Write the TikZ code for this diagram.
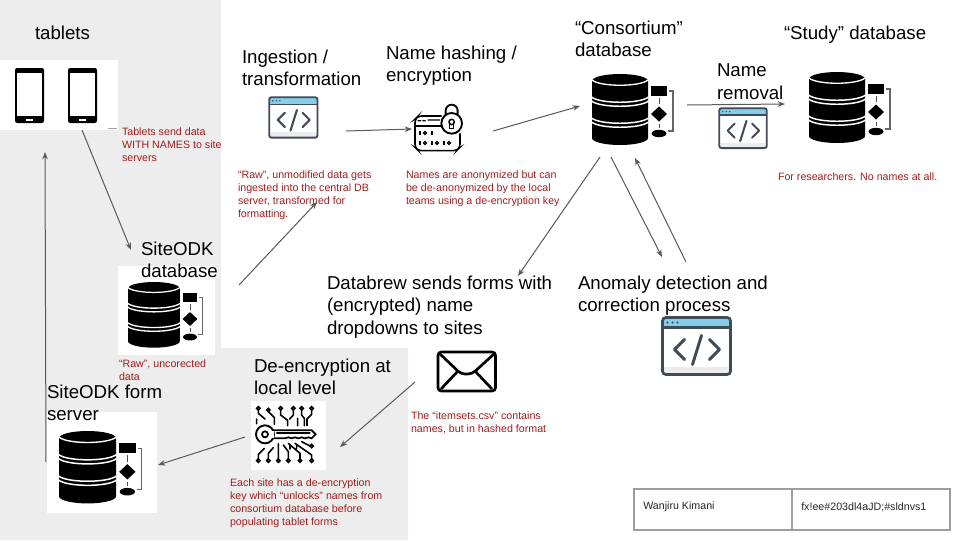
\documentclass[tikz,border=0pt]{standalone}
\usepackage{fontspec}
\setmainfont{Liberation Sans}
\usetikzlibrary{arrows.meta}
\definecolor{panelgray}{HTML}{EDEDED}
\definecolor{notered}{HTML}{A61C1C}
\definecolor{flowgray}{HTML}{595959}
\definecolor{codeslate}{HTML}{3F4B57}
\definecolor{codeblue}{HTML}{85CDE8}
\definecolor{tablegray}{HTML}{9E9E9E}
\tikzset{
  iconbox/.style={fill=white,draw=none,inner sep=0pt,outer sep=0pt,anchor=north west},
  heading/.style={anchor=north west,inner sep=0pt,outer sep=0pt,align=left,text=black,
    font=\fontsize{14}{16.7}\selectfont,execute at begin node={\rule{0pt}{11pt}}},
  note/.style={anchor=north west,inner sep=0pt,outer sep=0pt,align=left,text=notered,
    font=\fontsize{8}{9.8}\selectfont,execute at begin node={\rule{0pt}{7pt}}},
  flow/.style={draw=flowgray,line width=0.75pt,-{Stealth[length=5.5pt,width=4.2pt]}},
  cellbox/.style={draw=tablegray,line width=0.8pt,inner sep=0pt,outer sep=0pt,anchor=north west,
    minimum height=30.75pt,text=black!85,
    font=\fontsize{8}{9.8}\selectfont},
}
\newcommand{\dbicon}[3]{%
  \begin{scope}[shift={(#1,#2)},xscale=#3,yscale=#3]
    \fill[black] (0,7) arc[start angle=180,end angle=360,x radius=28,y radius=7]
       -- (56,64) arc[start angle=0,end angle=180,x radius=28,y radius=7] -- cycle;
    \draw[white,line width=#3*1pt] (0,6) .. controls (8,13) and (48,13) .. (56,6);
    \draw[white,line width=#3*1.1pt] (-0.5,23) .. controls (8,30) and (48,30) .. (56.5,23);
    \draw[white,line width=#3*1.1pt] (-0.5,27) .. controls (8,34) and (48,34) .. (56.5,27);
    \draw[white,line width=#3*1.1pt] (-0.5,44) .. controls (8,51) and (48,51) .. (56.5,44);
    \draw[white,line width=#3*1.1pt] (-0.5,48) .. controls (8,55) and (48,55) .. (56.5,48);
    \fill[black] (59,12) rectangle (75,22);
    \fill[black] (67,32.5) -- (75,40) -- (67,47.5) -- (59,40) -- cycle;
    \fill[black] (67,59.5) ellipse[x radius=7.5,y radius=3.7];
    \draw[black!70,line width=#3*0.7pt] (67,24) -- (67,30) (67,50) -- (67,54);
    \draw[black!60,line width=#3*0.9pt] (77,17) -- (81,17) -- (81,57) -- (76,57);
  \end{scope}}
\newcommand{\codeicon}[3]{%
  \begin{scope}[shift={(#1,#2)},xscale=#3,yscale=#3]
    \fill[white,rounded corners=#3*2.5pt] (1,1) rectangle (69,58);
    \fill[panelgray] (2,50) rectangle (68,57);
    \fill[codeblue] (2,2) rectangle (68,10);
    \draw[codeslate,line width=#3*1.7pt] (1,11) -- (69,11);
    \draw[codeslate,line width=#3*2pt,rounded corners=#3*2.5pt] (1,1) rectangle (69,58);
    \fill[codeslate] (6,6) circle[radius=1.1] (11,6) circle[radius=1.1] (16,6) circle[radius=1.1];
    \draw[codeslate,line width=#3*2.2pt,line cap=round,line join=round]
      (23,23) -- (13,33) -- (23,43) (48,23) -- (58,33) -- (48,43) (40,19) -- (31,48);
  \end{scope}}
\begin{document}
\begin{tikzpicture}[x=0.75pt,y=-0.75pt]
\path[use as bounding box,fill=white] (0,0) rectangle (960,540);
% grey panel
\fill[panelgray] (0,0) -- (221,0) -- (221,348) -- (408,348) -- (408,540) -- (0,540) -- cycle;

% icon holders
\node[iconbox,minimum width=88.5pt,minimum height=52.5pt] (tablets) at (0,60) {};
\node[iconbox,minimum width=72.75pt,minimum height=66.75pt] (sitedb) at (118,266) {};
\node[iconbox,minimum width=82.5pt,minimum height=75.75pt] (formdb) at (47,412) {};
\node[iconbox,minimum width=36.75pt,minimum height=29.25pt] (ingest) at (269,97) {};
\node[iconbox,minimum width=39pt,minimum height=34.5pt] (hash) at (413,106) {};
\node[iconbox,minimum width=60pt,minimum height=53.25pt] (consort) at (592,74) {};
\node[iconbox,minimum width=60.75pt,minimum height=52.5pt] (study) at (809,72) {};
\node[iconbox,minimum width=36pt,minimum height=30pt] (removal) at (719,108) {};
\node[iconbox,minimum width=52.5pt,minimum height=44.25pt] (anomaly) at (662,317) {};
\node[iconbox,minimum width=44.25pt,minimum height=30.75pt] (mail) at (437,350) {};
\node[iconbox,minimum width=56.25pt,minimum height=51.75pt] (key) at (251,401) {};

% phones
\foreach \px in {15,68}{
  \fill[black,rounded corners=1.6pt] (\px,68) rectangle ++(29,55);
  \fill[white] (\px+2,73) rectangle ++(25,43);
  \fill[white] (\px+11,118.8) rectangle ++(7,2);
}
\fill[black!35] (108,127.5) rectangle (117,129);

% databases
\dbicon{128}{282}{0.925}
\dbicon{59}{431}{1.02}
\dbicon{592}{74}{1}
\dbicon{809}{72}{1}

% code windows
\codeicon{268.5}{96.5}{0.71}
\codeicon{718.5}{107.5}{0.7}
\codeicon{661.5}{316.5}{1}

% hash icon
\begin{scope}[shift={(405,100)},x=0.25pt,y=-0.25pt]
  \draw[black,line width=1.2pt,rounded corners=2.5pt] (110,48) -- (40,48) -- (30,58) -- (30,142) -- (40,152) -- (155,152) -- (165,142) -- (165,100);
  \draw[black,line width=1.1pt] (30,78) -- (108,78);
  \fill[black] (38,60) rectangle (48,64) (52,60) rectangle (62,64) (68,58) rectangle (105,62);
  \foreach \bx in {42,78}{\fill[black] (\bx,92) rectangle ++(5,14);}
  \draw[black,line width=1pt] (60,99) circle[radius=4.5];
  \foreach \bx in {42,78,114}{\fill[black] (\bx,122) rectangle ++(5,14);}
  \foreach \bx in {60,96,132}{\draw[black,line width=1pt] (\bx,129) circle[radius=4.5];}
  \fill[white] (140,70) circle[radius=31];
  \draw[black,line width=1.4pt] (140,70) circle[radius=31];
  \draw[black,line width=1.4pt] (122,44) -- (122,32) arc[start angle=180,end angle=360,x radius=18,y radius=18] -- (158,44);
  \draw[black,line width=1.1pt] (140,66) circle[radius=8];
  \draw[black,line width=1.1pt] (134,72) -- (134,86) -- (146,86) -- (146,72);
\end{scope}

% key icon
\begin{scope}[shift={(245,395)},x=0.25pt,y=-0.25pt,line cap=round]
  \draw[black,line width=1.3pt] (83,106) -- (200,106) -- (212,118) -- (200,130)
    -- (190,127) -- (180,130) -- (170,127) -- (160,130) -- (150,127) -- (140,130) -- (130,127) -- (120,130) -- (83,130);
  \draw[black,line width=1.4pt] (60,118) circle[radius=27];
  \fill[white] (80,108) rectangle (88,128);
  \draw[black,line width=1.3pt] (60,118) circle[radius=9];
  \draw[black,line width=0.9pt] (95,114) -- (195,114);
  \foreach \cx/\cy in {40/40,70/45,107/40,145/40,170/40,200/40,40/197,70/197,100/197,130/197,165/197,200/197,200/153}{
    \draw[black,line width=1.2pt] (\cx,\cy) circle[radius=5];}
  \draw[black,line width=1.2pt]
    (40,45) -- (40,55) -- (60,72)
    (70,50) -- (88,68) -- (88,88)
    (107,45) -- (107,60) -- (128,76) -- (128,92)
    (145,45) -- (145,60) -- (134,72)
    (158,70) -- (158,92)
    (170,45) -- (170,60) -- (178,70) -- (178,92)
    (200,45) -- (200,58) -- (186,72) -- (186,92)
    (35,72) -- (35,86)
    (40,192) -- (40,178) -- (58,160)
    (70,192) -- (70,175) -- (85,158)
    (100,192) -- (100,146)
    (130,192) -- (130,170) -- (115,150)
    (165,192) -- (165,175) -- (130,145)
    (200,192) -- (200,180) -- (150,145)
    (195,153) -- (170,140)
    (135,150) -- (135,162)
    (155,148) -- (155,160);
\end{scope}

% envelope
\draw[black,line width=2pt,rounded corners=2.5pt] (438,352) rectangle (495.5,391);
\draw[black,line width=2pt,line join=round,rounded corners=3pt] (440,354) -- (461,374) -- (472,374) -- (494,354);
\draw[black,line width=2pt] (441,389) -- (458,371) (492,389) -- (475,371);

% headings
\node[heading] (htablets) at (35,25) {tablets};
\node[heading] (hingest) at (242,50) {Ingestion /\\transformation};
\node[heading] (hhash) at (386,46) {Name hashing /\\encryption};
\node[heading] (hconsort) at (575,21) {“Consortium”\\database};
\node[heading] (hstudy) at (784,25) {“Study” database};
\node[heading] (hremoval) at (717,64) {Name\\removal};
\node[heading] (hsitedb) at (141,242) {SiteODK\\database};
\node[heading] (hform) at (47,385) {SiteODK form\\server};
\node[heading] (hdeenc) at (254,359) {De-encryption at\\local level};
\node[heading] (hbrew) at (327,276) {Databrew sends forms with\\(encrypted) name\\dropdowns to sites};
\node[heading] (hanomaly) at (578,276) {Anomaly detection and\\correction process};

% notes
\node[note] (ntablets) at (122,128) {Tablets send data\\WITH NAMES to site\\servers};
\node[note] (ningest) at (238,171) {“Raw”, unmodified data gets\\ingested into the central DB\\server, transformed for\\formatting.};
\node[note] (nhash) at (406,171) {Names are anonymized but can\\be de-anonymized by the local\\teams using a de-encryption key};
\node[note] (nstudy) at (778,171) {For researchers. No names at all.};
\node[note] (nsitedb) at (119,360) {“Raw”, uncorected\\data};
\node[note] (nmail) at (411,412) {The “itemsets.csv” contains\\names, but in hashed format};
\node[note] (nkey) at (230,479) {Each site has a de-encryption\\key which “unlocks” names from\\consortium database before\\populating tablet forms};

% table
\node[cellbox,minimum width=118.5pt] (author) at (634,489) {};
\node[cellbox,minimum width=118.5pt] (secret) at (792,489) {};
\node[anchor=west,inner sep=0pt,text=black!85,font=\fontsize{8}{9.8}\selectfont] (authortext) at (643,507) {Wanjiru Kimani};
\node[anchor=west,inner sep=0pt,text=black!85,font=\fontsize{8}{9.8}\selectfont] (secrettext) at (801,507) {fx!ee\#203dl4aJD;\#sldnvs1};

% connectors
\draw[flow] ([shift={(23,35)}]tablets.center) -- ([shift={(-35.5,-60.5)}]sitedb.center);
\draw[flow] ([shift={(-56,-0.5)}]formdb.center) -- ([shift={(-14,57)}]tablets.center);
\draw[flow] ([shift={(72.5,-25.5)}]sitedb.center) -- ([shift={(23.5,85.5)}]ingest.center);
\draw[flow] ([shift={(52.5,14.5)}]ingest.center) -- ([shift={(-27,0)}]hash.center);
\draw[flow] ([shift={(54,2)}]hash.center) -- ([shift={(-52,-3.5)}]consort.center);
\draw[flow] ([shift={(55,-4.5)}]consort.center) -- ([shift={(-64.5,-3)}]study.center);
\draw[flow] ([shift={(-32,47.5)}]consort.center) -- ([shift={(51.5,-94.5)}]mail.center);
\draw[flow] ([shift={(-21,47.5)}]consort.center) -- ([shift={(-35,-89.5)}]anomaly.center);
\draw[flow] ([shift={(-11,-84.5)}]anomaly.center) -- ([shift={(3,48.5)}]consort.center);
\draw[flow] ([shift={(-51.5,11.5)}]mail.center) -- ([shift={(51.5,11.5)}]key.center);
\draw[flow] ([shift={(-43.5,1.5)}]key.center) -- ([shift={(56,2.5)}]formdb.center);
\end{tikzpicture}
\end{document}
